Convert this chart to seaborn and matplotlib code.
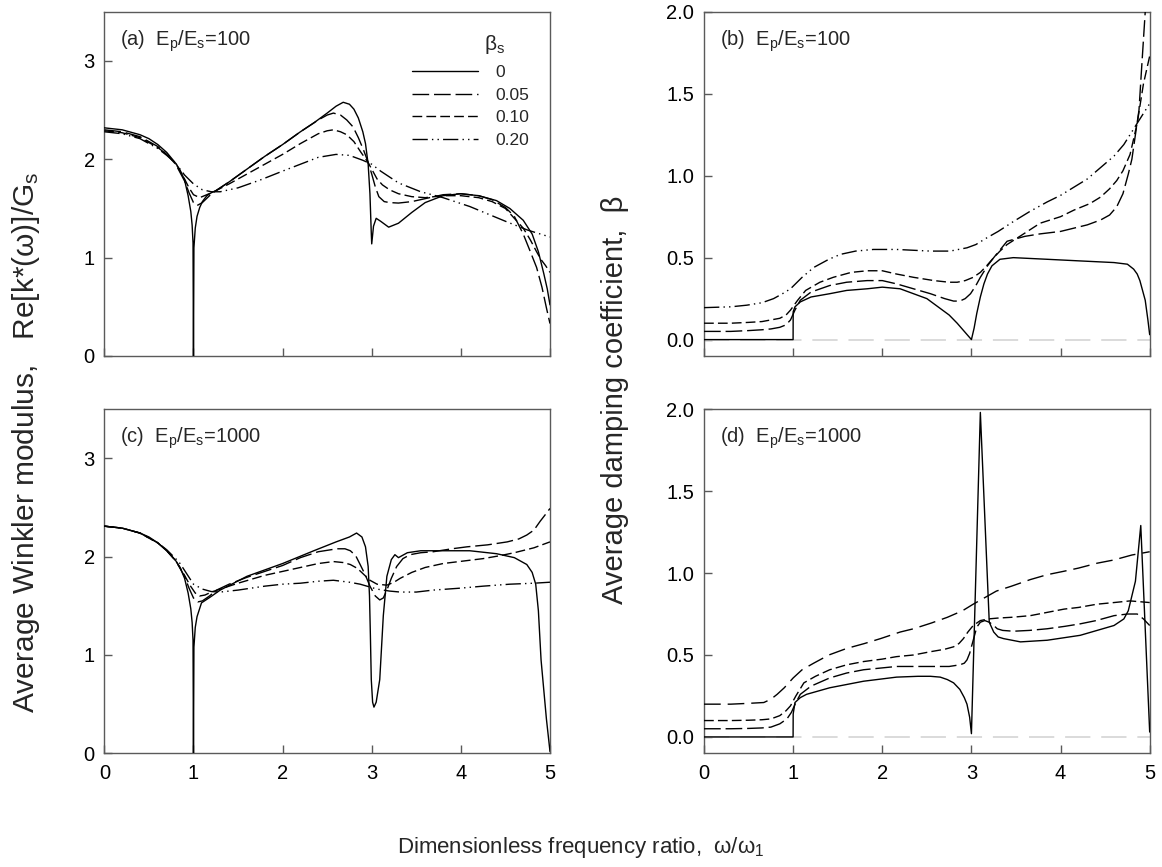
import matplotlib
matplotlib.use("Agg")
import matplotlib.pyplot as plt
import pandas as pd
import seaborn as sns

sns.set_style("ticks")
plt.rcParams["font.family"] = ["Liberation Sans", "DejaVu Sans"]
plt.rcParams["mathtext.fontset"] = "custom"
plt.rcParams["mathtext.rm"] = "Liberation Sans"
plt.rcParams["mathtext.it"] = "Liberation Sans:italic"
plt.rcParams["mathtext.default"] = "regular"

labels = ["0", "0.05", "0.10", "0.20"]

# ---------------- panel (a): Re[k*]/Gs, Ep/Es=100 ----------------
a_x0 = [0, 0.2, 0.4, 0.5, 0.6, 0.7, 0.8, 0.85, 0.9, 0.94, 0.97, 0.985, 0.995, 1.0, 1.005, 1.02, 1.04, 1.07,
        1.1, 1.15, 1.2, 1.25, 1.4, 1.6, 1.8, 2.0, 2.2, 2.35, 2.5, 2.6, 2.68, 2.75, 2.8, 2.85, 2.9, 2.93, 2.96,
        2.98, 2.995, 3.0, 3.02, 3.05, 3.1, 3.19, 3.3, 3.45, 3.6, 3.8, 4.0, 4.2, 4.4, 4.55, 4.7, 4.8, 4.87, 4.93,
        4.97, 5.0]
a_y0 = [2.32, 2.30, 2.25, 2.21, 2.15, 2.07, 1.96, 1.89, 1.79, 1.63, 1.47, 1.33, 1.15, 0.0, 1.10, 1.30, 1.42, 1.51,
        1.57, 1.63, 1.66, 1.68, 1.77, 1.90, 2.03, 2.15, 2.28, 2.37, 2.47, 2.54, 2.58, 2.56, 2.51, 2.42, 2.28, 2.16,
        1.95, 1.65, 1.25, 1.14, 1.32, 1.40, 1.37, 1.31, 1.35, 1.46, 1.56, 1.63, 1.65, 1.63, 1.58, 1.50, 1.38, 1.24,
        1.06, 0.84, 0.68, 0.52]
a_x05 = [0, 0.2, 0.4, 0.6, 0.7, 0.8, 0.9, 0.95, 1.0, 1.04, 1.1, 1.18, 1.25, 1.4, 1.6, 1.8, 2.0, 2.2, 2.4, 2.5,
         2.57, 2.65, 2.72, 2.79, 2.85, 2.91, 2.96, 3.0, 3.04, 3.08, 3.14, 3.2, 3.3, 3.45, 3.6, 3.8, 4.0, 4.2, 4.35,
         4.5, 4.6, 4.7, 4.78, 4.85, 4.91, 4.96, 5.0]
a_y05 = [2.30, 2.28, 2.23, 2.13, 2.05, 1.95, 1.78, 1.66, 1.56, 1.53, 1.56, 1.63, 1.68, 1.77, 1.90, 2.03, 2.15, 2.28,
         2.40, 2.45, 2.47, 2.45, 2.40, 2.33, 2.22, 2.09, 1.97, 1.85, 1.72, 1.62, 1.57, 1.56, 1.555, 1.57, 1.60,
         1.64, 1.65, 1.63, 1.59, 1.51, 1.42, 1.24, 1.06, 0.90, 0.70, 0.49, 0.33]
a_x10 = [0, 0.2, 0.4, 0.6, 0.7, 0.8, 0.9, 0.95, 1.0, 1.07, 1.15, 1.25, 1.4, 1.6, 1.8, 2.0, 2.2, 2.4, 2.5, 2.57,
         2.65, 2.72, 2.8, 2.88, 2.95, 3.0, 3.06, 3.12, 3.2, 3.3, 3.45, 3.6, 3.8, 4.0, 4.2, 4.35, 4.5, 4.6, 4.7,
         4.78, 4.85, 4.9, 4.95, 5.0]
a_y10 = [2.29, 2.27, 2.22, 2.12, 2.05, 1.96, 1.80, 1.71, 1.64, 1.61, 1.64, 1.68, 1.75, 1.85, 1.95, 2.05, 2.16,
         2.26, 2.29, 2.30, 2.28, 2.25, 2.18, 2.07, 1.98, 1.90, 1.80, 1.74, 1.69, 1.65, 1.62, 1.61, 1.63, 1.63,
         1.61, 1.57, 1.50, 1.40, 1.30, 1.18, 1.06, 0.98, 0.92, 0.85]
a_x20 = [0, 0.2, 0.4, 0.6, 0.7, 0.8, 0.9, 1.0, 1.1, 1.2, 1.3, 1.5, 1.75, 2.0, 2.2, 2.4, 2.6, 2.75, 2.9, 3.0, 3.1,
         3.3, 3.55, 3.8, 4.1, 4.5, 4.75, 5.0]
a_y20 = [2.28, 2.26, 2.21, 2.11, 2.04, 1.96, 1.84, 1.75, 1.69, 1.67, 1.67, 1.71, 1.79, 1.88, 1.95, 2.02, 2.05,
         2.04, 1.99, 1.95, 1.88, 1.76, 1.67, 1.61, 1.52, 1.37, 1.28, 1.21]

# ---------------- panel (b): damping, Ep/Es=100 ----------------
b_x0 = [0, 0.999, 1.0, 1.02, 1.08, 1.2, 1.41, 1.6, 1.83, 2.0, 2.2, 2.35, 2.5, 2.65, 2.75, 2.84, 2.92, 3.0, 3.03,
        3.06, 3.1, 3.14, 3.18, 3.23, 3.32, 3.47, 3.85, 4.22, 4.6, 4.75, 4.82, 4.86, 4.89, 4.92, 4.95, 4.98, 5.0]
b_y0 = [0, 0, 0.17, 0.20, 0.23, 0.26, 0.28, 0.30, 0.31, 0.32, 0.31, 0.28, 0.25, 0.19, 0.15, 0.10, 0.05, 0.0, 0.07,
        0.16, 0.26, 0.34, 0.40, 0.45, 0.49, 0.50, 0.49, 0.48, 0.47, 0.46, 0.43, 0.40, 0.36, 0.30, 0.24, 0.12, 0.03]
b_x05 = [0, 0.3, 0.5, 0.65, 0.75, 0.85, 0.92, 0.97, 1.02, 1.08, 1.2, 1.41, 1.6, 1.83, 2.0, 2.16, 2.35, 2.54, 2.7,
         2.8, 2.87, 2.93, 2.99, 3.05, 3.1, 3.18, 3.25, 3.4, 3.6, 3.77, 4.0, 4.15, 4.3, 4.45, 4.55, 4.63, 4.7, 4.76,
         4.8, 4.84, 4.88, 4.91, 4.95, 4.98]
b_y05 = [0.05, 0.05, 0.055, 0.06, 0.065, 0.075, 0.09, 0.12, 0.18, 0.24, 0.29, 0.33, 0.35, 0.36, 0.36, 0.34, 0.31,
         0.28, 0.25, 0.235, 0.235, 0.25, 0.28, 0.33, 0.38, 0.45, 0.50, 0.60, 0.63, 0.645, 0.66, 0.68, 0.70, 0.73,
         0.76, 0.81, 0.89, 1.01, 1.10, 1.25, 1.40, 1.66, 2.0, 2.3]
b_x10 = [0, 0.3, 0.5, 0.65, 0.75, 0.85, 0.92, 0.97, 1.05, 1.14, 1.3, 1.45, 1.65, 1.83, 2.0, 2.16, 2.35, 2.58,
         2.75, 2.84, 2.93, 3.02, 3.1, 3.17, 3.25, 3.32, 3.4, 3.6, 3.77, 4.0, 4.15, 4.33, 4.45, 4.55, 4.63, 4.7,
         4.78, 4.86, 4.93, 5.0]
b_y10 = [0.10, 0.10, 0.105, 0.11, 0.12, 0.13, 0.15, 0.18, 0.24, 0.30, 0.35, 0.38, 0.41, 0.42, 0.42, 0.40, 0.38,
         0.36, 0.35, 0.35, 0.36, 0.38, 0.41, 0.45, 0.50, 0.54, 0.58, 0.65, 0.71, 0.75, 0.79, 0.83, 0.87, 0.92,
         0.97, 1.03, 1.13, 1.32, 1.56, 1.73]
b_x20 = [0, 0.3, 0.48, 0.65, 0.78, 0.88, 0.97, 1.1, 1.23, 1.4, 1.53, 1.7, 1.9, 2.16, 2.35, 2.54, 2.76, 2.95,
         3.05, 3.17, 3.3, 3.47, 3.65, 3.85, 4.0, 4.15, 4.3, 4.45, 4.6, 4.71, 4.86, 5.0]
b_y20 = [0.195, 0.20, 0.21, 0.225, 0.25, 0.28, 0.31, 0.38, 0.44, 0.49, 0.52, 0.54, 0.55, 0.55, 0.545, 0.54, 0.54,
         0.56, 0.58, 0.62, 0.66, 0.72, 0.78, 0.84, 0.88, 0.93, 0.98, 1.05, 1.12, 1.19, 1.32, 1.44]

# ---------------- panel (c): Re[k*]/Gs, Ep/Es=1000 ----------------
c_x0 = [0, 0.2, 0.4, 0.5, 0.6, 0.7, 0.8, 0.85, 0.9, 0.94, 0.97, 0.985, 0.995, 1.0, 1.005, 1.02, 1.04, 1.09, 1.19,
        1.3, 1.6, 2.0, 2.35, 2.6, 2.75, 2.83, 2.89, 2.93, 2.96, 2.975, 2.985, 2.995, 3.01, 3.025, 3.05, 3.09,
        3.13, 3.17, 3.22, 3.26, 3.3, 3.34, 3.4, 3.55, 3.8, 4.1, 4.4, 4.6, 4.74, 4.8, 4.84, 4.87, 4.9, 4.93, 4.96,
        5.0]
c_y0 = [2.31, 2.29, 2.24, 2.20, 2.14, 2.06, 1.96, 1.89, 1.78, 1.63, 1.47, 1.33, 1.15, 0.0, 1.08, 1.28, 1.39, 1.53,
        1.59, 1.66, 1.80, 1.93, 2.06, 2.15, 2.20, 2.24, 2.20, 2.10, 1.90, 1.60, 1.20, 0.75, 0.52, 0.47, 0.52, 0.75,
        1.40, 1.80, 1.97, 2.02, 1.99, 2.01, 2.04, 2.06, 2.06, 2.06, 2.03, 1.99, 1.92, 1.84, 1.72, 1.45, 0.95, 0.65,
        0.35, 0.02]
c_x05 = [0, 0.2, 0.4, 0.6, 0.7, 0.8, 0.9, 0.95, 1.0, 1.05, 1.1, 1.18, 1.26, 1.4, 1.6, 2.0, 2.2, 2.4, 2.61, 2.7,
         2.76, 2.82, 2.87, 2.93, 2.98, 3.04, 3.09, 3.13, 3.17, 3.22, 3.28, 3.35, 3.43, 3.55, 3.69, 3.9, 4.07, 4.3,
         4.52, 4.65, 4.74, 4.82, 4.89, 4.95, 5.0]
c_y05 = [2.31, 2.29, 2.24, 2.14, 2.06, 1.96, 1.80, 1.68, 1.58, 1.54, 1.55, 1.60, 1.66, 1.72, 1.79, 1.91, 1.99,
         2.05, 2.08, 2.08, 2.06, 2.01, 1.92, 1.81, 1.70, 1.60, 1.56, 1.58, 1.66, 1.78, 1.90, 1.98, 2.02, 2.04, 2.05,
         2.08, 2.10, 2.12, 2.15, 2.18, 2.22, 2.27, 2.36, 2.43, 2.49]
c_x10 = [0, 0.2, 0.4, 0.6, 0.7, 0.8, 0.9, 0.96, 1.02, 1.07, 1.13, 1.2, 1.3, 1.5, 1.8, 2.0, 2.2, 2.4, 2.57, 2.68,
         2.76, 2.84, 2.91, 2.98, 3.06, 3.17, 3.25, 3.32, 3.45, 3.6, 3.8, 4.07, 4.25, 4.44, 4.6, 4.82, 5.0]
c_y10 = [2.31, 2.29, 2.24, 2.14, 2.06, 1.96, 1.81, 1.71, 1.63, 1.60, 1.61, 1.64, 1.67, 1.73, 1.81, 1.85, 1.89,
         1.93, 1.95, 1.94, 1.92, 1.88, 1.82, 1.76, 1.72, 1.71, 1.74, 1.78, 1.84, 1.89, 1.93, 1.96, 1.98, 2.01, 2.04,
         2.09, 2.15]
c_x20 = [0, 0.2, 0.4, 0.6, 0.7, 0.8, 0.85, 0.9, 1.0, 1.1, 1.2, 1.3, 1.5, 1.8, 2.0, 2.2, 2.4, 2.57, 2.75, 2.87,
         3.06, 3.2, 3.32, 3.5, 3.69, 4.0, 4.25, 4.55, 4.82, 5.0]
c_y20 = [2.31, 2.29, 2.24, 2.14, 2.07, 1.98, 1.93, 1.86, 1.72, 1.67, 1.645, 1.64, 1.66, 1.70, 1.72, 1.73, 1.75,
         1.76, 1.74, 1.72, 1.67, 1.65, 1.64, 1.64, 1.66, 1.68, 1.70, 1.72, 1.73, 1.74]

# ---------------- panel (d): damping, Ep/Es=1000 ----------------
d_x0 = [0, 0.999, 1.0, 1.02, 1.08, 1.15, 1.41, 1.79, 2.16, 2.4, 2.54, 2.65, 2.73, 2.8, 2.87, 2.92, 2.95, 2.98,
        3.0, 3.1, 3.2, 3.25, 3.3, 3.36, 3.55, 3.85, 4.22, 4.6, 4.71, 4.76, 4.8, 4.84, 4.9, 5.0]
d_y0 = [0, 0, 0.14, 0.21, 0.24, 0.26, 0.30, 0.34, 0.365, 0.37, 0.37, 0.365, 0.35, 0.33, 0.29, 0.24, 0.20, 0.12,
        0.02, 1.98, 0.70, 0.64, 0.61, 0.60, 0.58, 0.59, 0.62, 0.68, 0.72, 0.77, 0.86, 0.95, 1.29, 0.03]
d_x05 = [0, 0.3, 0.5, 0.65, 0.75, 0.85, 0.93, 0.98, 1.03, 1.08, 1.2, 1.41, 1.6, 1.79, 2.16, 2.54, 2.75, 2.87,
         2.92, 2.95, 2.98, 3.0, 3.03, 3.06, 3.1, 3.15, 3.2, 3.25, 3.29, 3.35, 3.47, 3.65, 3.85, 4.05, 4.22, 4.4,
         4.6, 4.75, 4.86, 4.93, 5.0]
d_y05 = [0.05, 0.05, 0.052, 0.055, 0.06, 0.08, 0.11, 0.15, 0.21, 0.26, 0.31, 0.36, 0.39, 0.41, 0.43, 0.43, 0.43,
         0.44, 0.45, 0.47, 0.51, 0.55, 0.61, 0.67, 0.70, 0.71, 0.70, 0.68, 0.66, 0.65, 0.645, 0.65, 0.66, 0.675,
         0.69, 0.71, 0.74, 0.75, 0.75, 0.72, 0.68]
d_x10 = [0, 0.3, 0.5, 0.65, 0.75, 0.85, 0.92, 0.97, 1.03, 1.12, 1.25, 1.41, 1.6, 1.79, 2.0, 2.16, 2.35, 2.54,
         2.7, 2.8, 2.86, 2.91, 2.96, 3.02, 3.1, 3.19, 3.29, 3.45, 3.66, 3.85, 4.04, 4.2, 4.41, 4.6, 4.78, 5.0]
d_y10 = [0.10, 0.10, 0.102, 0.105, 0.11, 0.13, 0.16, 0.19, 0.25, 0.33, 0.37, 0.41, 0.44, 0.46, 0.475, 0.49, 0.50,
         0.52, 0.535, 0.55, 0.57, 0.60, 0.64, 0.68, 0.71, 0.72, 0.725, 0.73, 0.74, 0.76, 0.78, 0.79, 0.81, 0.82,
         0.83, 0.82]
d_x20 = [0, 0.3, 0.5, 0.67, 0.75, 0.82, 0.9, 1.0, 1.1, 1.23, 1.4, 1.6, 1.8, 1.98, 2.2, 2.35, 2.55, 2.73, 2.9,
         3.02, 3.15, 3.28, 3.45, 3.66, 3.85, 4.03, 4.2, 4.41, 4.6, 4.8, 5.0]
d_y20 = [0.20, 0.20, 0.205, 0.21, 0.23, 0.26, 0.30, 0.36, 0.41, 0.45, 0.50, 0.54, 0.57, 0.60, 0.64, 0.66, 0.695,
         0.73, 0.77, 0.81, 0.85, 0.89, 0.92, 0.96, 0.99, 1.01, 1.03, 1.06, 1.08, 1.11, 1.13]

panel_titles = ["(a)  E$_p$/E$_s$=100", "(b)  E$_p$/E$_s$=100",
                "(c)  E$_p$/E$_s$=1000", "(d)  E$_p$/E$_s$=1000"]
x_ticks = [0, 1, 2, 3, 4, 5]
k_ticks = [0, 1, 2, 3]
b_ticks = [0.0, 0.5, 1.0, 1.5, 2.0]


def make_df(series):
    frames = []
    for lab, (xs, ys) in zip(labels, series):
        frames.append(pd.DataFrame({"x": xs, "y": ys, "beta": lab}))
    return pd.concat(frames, ignore_index=True)


df_a = make_df([(a_x0, a_y0), (a_x05, a_y05), (a_x10, a_y10), (a_x20, a_y20)])
df_b = make_df([(b_x0, b_y0), (b_x05, b_y05), (b_x10, b_y10), (b_x20, b_y20)])
df_c = make_df([(c_x0, c_y0), (c_x05, c_y05), (c_x10, c_y10), (c_x20, c_y20)])
df_d = make_df([(d_x0, d_y0), (d_x05, d_y05), (d_x10, d_y10), (d_x20, d_y20)])

dash_std = {"0": "", "0.05": (12, 3.5), "0.10": (7, 3), "0.20": (11, 3, 1, 3, 1, 3)}
dash_d = {"0": "", "0.05": (12, 3.5), "0.10": (7, 3), "0.20": (12, 5)}

fig = plt.figure(figsize=(11.62, 8.67), dpi=100)
W = 0.3835
H = 0.397
ax_a = fig.add_axes([0.0898, 0.5894, W, H])
ax_b = fig.add_axes([0.6059, 0.5894, W, H])
ax_c = fig.add_axes([0.0898, 0.1311, W, H])
ax_d = fig.add_axes([0.6059, 0.1311, W, H])

spine_col = "#5a5a5a"
for ax, df, dsh in [(ax_a, df_a, dash_std), (ax_b, df_b, dash_std),
                    (ax_c, df_c, dash_std), (ax_d, df_d, dash_d)]:
    if ax in (ax_b, ax_d):
        ax.axhline(0, color="#d8d8d8", lw=1.3, dashes=(14, 6), zorder=1)
    sns.lineplot(data=df, x="x", y="y", style="beta", style_order=labels, dashes=dsh,
                 color="black", lw=1.0, estimator=None, sort=False, legend=False, ax=ax, zorder=3)
    ax.set_xlim(0, 5)
    ax.set_xticks(x_ticks)
    ax.set_xlabel("")
    ax.set_ylabel("")
    for s in ax.spines.values():
        s.set_visible(True)
        s.set_color(spine_col)
        s.set_linewidth(1.0)
    ax.tick_params(direction="in", length=6, width=1.0, color=spine_col, labelsize=14.5,
                   top=False, right=False, labelcolor="black")
    ax.tick_params(axis="x", pad=8)
    ax.tick_params(axis="y", pad=7)

for ax in (ax_a, ax_c):
    ax.set_ylim(0, 3.5)
    ax.set_yticks(k_ticks)
    ax.set_yticklabels([str(t) for t in k_ticks])
for ax in (ax_b, ax_d):
    ax.set_ylim(-0.1, 2.0)
    ax.set_yticks(b_ticks)
    ax.set_yticklabels([f"{t:.1f}" for t in b_ticks])
for ax in (ax_a, ax_b):
    ax.set_xticklabels([])
for ax in (ax_c, ax_d):
    ax.set_xticklabels([str(t) for t in x_ticks])

for ax, t in zip([ax_a, ax_b, ax_c, ax_d], panel_titles):
    ax.text(0.035, 0.915, t, transform=ax.transAxes, fontsize=14.5, ha="left", va="center")

# legend in panel (a)
handles = ax_a.get_lines()[:4]
leg = ax_a.legend(handles, labels, loc="upper left", bbox_to_anchor=(0.672, 0.87), frameon=False,
                  fontsize=12.5, handlelength=3.8, handletextpad=1.0, labelspacing=0.42, borderpad=0)
ax_a.text(0.852, 0.905, r"$\beta_s$", transform=ax_a.transAxes, fontsize=15, ha="left", va="center")

fig.text(0.5, 0.022, "Dimensionless frequency ratio,  ω/ω$_1$", ha="center", va="center", fontsize=16)
fig.text(0.022, 0.49, "Average Winkler modulus,   Re[k*(ω)]/G$_s$", ha="center", va="center",
         rotation=90, fontsize=21.5)
fig.text(0.529, 0.539, "Average damping coefficient,  β", ha="center", va="center",
         rotation=90, fontsize=21)

fig.savefig("out.png", dpi=100)
